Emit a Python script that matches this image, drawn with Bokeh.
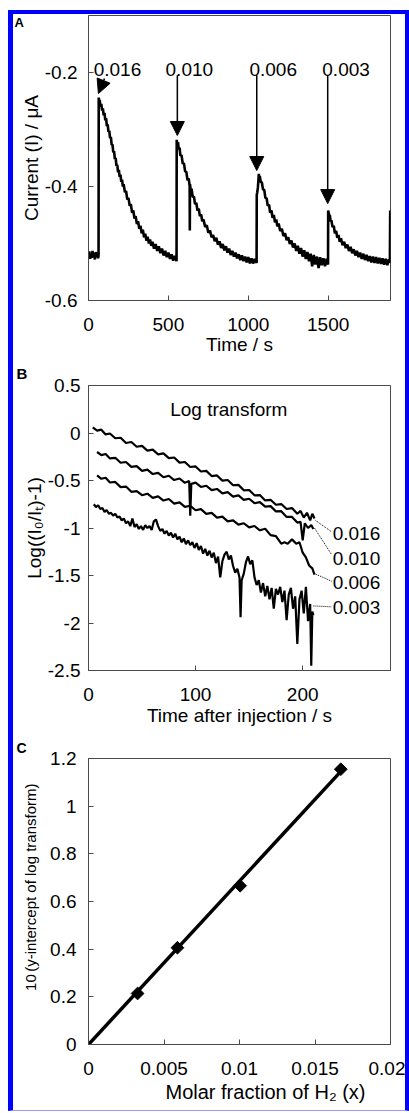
from math import pi
from bokeh.plotting import figure
from bokeh.layouts import column
from bokeh.models import Arrow, NormalHead, FixedTicker, Range1d, LinearAxis, Title
from bokeh.core.properties import value
from bokeh.embed import file_html
from bokeh.resources import INLINE

FONT = "Liberation Sans"

# ---------------- Panel A data: current transient ----------------
time_A = [0, 5, 10, 15, 20, 25, 30, 35, 40, 45, 50, 55, 60, 63,
          64, 67, 70, 75, 80, 85, 90, 95, 100, 105, 110, 115, 120, 125, 130, 135, 140, 145, 150, 155,
          160, 165, 170, 175, 180, 185, 190, 195, 200, 205, 210, 215, 220, 228, 235, 243, 250, 258,
          265, 273, 280, 288, 295, 303, 310, 318, 325, 333, 340, 348, 355, 363, 370, 378, 385, 393,
          400, 410, 420, 430, 440, 450, 460, 470, 480, 490, 500, 510, 520, 530, 540, 551,
          552, 555, 560, 565, 570, 575, 582, 590, 597, 605, 612, 620, 627, 633, 634, 635, 640, 645,
          652, 660, 667, 675, 682, 690, 697, 705, 712, 720, 730, 740, 750, 760, 770, 780, 790, 800,
          810, 820, 830, 840, 850, 860, 870, 880, 890, 900, 910, 920, 930, 940, 950, 960, 970, 980,
          990, 1000, 1010, 1020, 1030, 1040, 1052,
          1053, 1056, 1060, 1063, 1066, 1069, 1072, 1078, 1085, 1092, 1100, 1107, 1115, 1122, 1130,
          1137, 1145, 1152, 1160, 1167, 1175, 1182, 1190, 1200, 1210, 1220, 1230, 1240, 1250, 1260,
          1270, 1280, 1290, 1300, 1310, 1320, 1330, 1340, 1350, 1360, 1370, 1380, 1390, 1400, 1410,
          1420, 1430, 1440, 1450, 1460, 1470, 1480, 1490, 1499,
          1500, 1503, 1507, 1510, 1515, 1520, 1527, 1535, 1542, 1550, 1557, 1565, 1572, 1580, 1590,
          1600, 1610, 1620, 1630, 1640, 1650, 1660, 1670, 1680, 1690, 1700, 1710, 1720, 1730, 1740,
          1750, 1760, 1770, 1780, 1790, 1800, 1810, 1820, 1830, 1840, 1850, 1860, 1870, 1880, 1886, 1888]
current_A = [-0.522, -0.514, -0.527, -0.519, -0.525, -0.513, -0.524, -0.518, -0.528, -0.515, -0.523, -0.516, -0.526, -0.521,
             -0.244, -0.253, -0.248, -0.260, -0.255, -0.267, -0.263, -0.275, -0.271, -0.284, -0.280, -0.294, -0.291, -0.304, -0.302, -0.315, -0.313, -0.327, -0.326, -0.340,
             -0.338, -0.352, -0.350, -0.364, -0.362, -0.375, -0.371, -0.383, -0.379, -0.392, -0.388, -0.400, -0.396, -0.410, -0.408, -0.423, -0.420, -0.434,
             -0.431, -0.446, -0.442, -0.456, -0.452, -0.466, -0.461, -0.474, -0.469, -0.482, -0.476, -0.489, -0.483, -0.495, -0.488, -0.500, -0.493, -0.504,
             -0.497, -0.509, -0.501, -0.513, -0.505, -0.517, -0.509, -0.521, -0.513, -0.524, -0.516, -0.527, -0.519, -0.530, -0.522, -0.531,
             -0.318, -0.327, -0.322, -0.335, -0.332, -0.346, -0.345, -0.360, -0.359, -0.374, -0.374, -0.389, -0.386, -0.399, -0.477, -0.396, -0.407, -0.404,
             -0.418, -0.418, -0.431, -0.429, -0.442, -0.439, -0.452, -0.449, -0.461, -0.458, -0.471, -0.468, -0.481, -0.477, -0.489, -0.485, -0.496, -0.490,
             -0.502, -0.496, -0.508, -0.501, -0.512, -0.505, -0.516, -0.509, -0.520, -0.513, -0.523, -0.516, -0.526, -0.519, -0.529, -0.521, -0.531, -0.523,
             -0.533, -0.524, -0.535, -0.526, -0.535, -0.527, -0.534,
             -0.415, -0.410, -0.402, -0.390, -0.378, -0.384, -0.382, -0.392, -0.393, -0.405, -0.406, -0.420, -0.421, -0.434, -0.432,
             -0.446, -0.442, -0.455, -0.450, -0.463, -0.458, -0.470, -0.465, -0.478, -0.474, -0.487, -0.482, -0.494, -0.489, -0.501,
             -0.495, -0.507, -0.500, -0.513, -0.504, -0.518, -0.508, -0.523, -0.512, -0.527, -0.515, -0.531, -0.518, -0.540, -0.520,
             -0.537, -0.523, -0.543, -0.524, -0.538, -0.526, -0.540, -0.527, -0.537,
             -0.442, -0.446, -0.452, -0.450, -0.461, -0.459, -0.471, -0.469, -0.482, -0.478, -0.490, -0.485, -0.497, -0.491, -0.503,
             -0.497, -0.508, -0.502, -0.513, -0.506, -0.517, -0.510, -0.521, -0.513, -0.524, -0.516, -0.527, -0.518, -0.529, -0.520,
             -0.531, -0.522, -0.533, -0.523, -0.534, -0.524, -0.535, -0.525, -0.536, -0.526, -0.537, -0.527, -0.538, -0.528, -0.534, -0.442]

inject_labels = ["0.016", "0.010", "0.006", "0.003"]
inject_time = [62, 556, 1053, 1497]          # arrow tips (injection times)
inject_tip = [-0.237, -0.3105, -0.372, -0.430]
inject_tail_x = [100, 556, 1053, 1497]
inject_tail_y = [-0.2105, -0.205, -0.205, -0.205]
inject_text_x = [181, 631, 1156, 1612]
inject_text_y = [-0.195, -0.195, -0.195, -0.195]

xticks_A = [0, 500, 1000, 1500]
xlabels_A = ["0", "500", "1000", "1500"]
yticks_A = [-0.6, -0.4, -0.2]
ylabels_A = ["-0.6", "-0.4", "-0.2"]

# ---------------- Panel B data: log transform ----------------
tB16 = [4, 8, 12, 16, 20, 25, 30, 35, 40, 45, 50, 55, 60, 65, 70, 75, 80, 85, 90, 95, 100, 105, 110, 115,
        120, 125, 130, 135, 140, 145, 150, 155, 160, 165, 170, 175, 180, 185, 190, 195, 198, 201, 204, 207, 209, 211]
yB16 = [0.06, 0.025, 0.035, -0.015, -0.005, -0.055, -0.05, -0.105, -0.095, -0.145, -0.135, -0.185, -0.175,
        -0.225, -0.215, -0.265, -0.258, -0.312, -0.305, -0.358, -0.352, -0.405, -0.399, -0.453, -0.447, -0.501,
        -0.495, -0.55, -0.546, -0.603, -0.60, -0.656, -0.653, -0.71, -0.703, -0.755, -0.748, -0.80, -0.79, -0.85,
        -0.82, -0.89, -0.84, -0.92, -0.85, -0.90]
tB10 = [8, 12, 16, 20, 25, 30, 35, 40, 45, 50, 55, 60, 65, 70, 75, 80, 85, 90, 94, 95, 96, 100, 105, 110, 115,
        120, 125, 130, 135, 140, 145, 150, 155, 160, 165, 170, 175, 180, 185, 190, 195, 198, 200, 202, 205, 208, 210]
yB10 = [-0.20, -0.233, -0.221, -0.268, -0.261, -0.313, -0.305, -0.357, -0.348, -0.398, -0.385, -0.432, -0.419,
        -0.466, -0.45, -0.495, -0.479, -0.524, -0.506, -0.87, -0.535, -0.523, -0.568, -0.555, -0.602, -0.589,
        -0.636, -0.623, -0.67, -0.657, -0.704, -0.692, -0.739, -0.727, -0.775, -0.77, -0.825, -0.823, -0.883,
        -0.883, -0.943, -0.935, -1.13, -0.95, -1.0, -0.97, -1.01]
tB06 = [8, 12, 16, 20, 25, 30, 35, 40, 45, 50, 55, 60, 65, 70, 75, 80, 85, 90, 95, 100, 105, 110, 115, 120,
        125, 130, 135, 140, 145, 150, 155, 160, 165, 170, 175, 180, 183, 186, 190, 194, 197, 200, 203, 206, 209, 211]
yB06 = [-0.447, -0.482, -0.471, -0.521, -0.515, -0.57, -0.564, -0.619, -0.611, -0.655, -0.639, -0.683, -0.667,
        -0.711, -0.695, -0.743, -0.73, -0.778, -0.766, -0.813, -0.801, -0.851, -0.841, -0.891, -0.88, -0.93,
        -0.92, -0.965, -0.95, -0.994, -0.979, -1.024, -1.008, -1.075, -1.085, -1.165, -1.15, -1.165, -1.12,
        -1.165, -1.15, -1.26, -1.31, -1.395, -1.425, -1.49]
tB03 = [5, 7, 9, 11, 13, 15, 17, 19, 21, 23, 25, 27, 29, 31, 33, 35, 37, 39, 41, 43, 45, 47, 49, 51, 53, 55,
        57, 59, 61, 63, 65, 67, 69, 71, 73, 75, 77, 79, 81, 83, 85, 87, 89, 91, 93, 95, 97, 99, 101, 103, 105,
        107, 109, 111, 113, 115, 117, 119, 121, 123, 125, 127, 129, 131, 133, 135, 137, 139, 141, 142, 143, 145,
        147, 149, 151, 153, 155, 157, 159, 161, 163, 165, 167, 169, 171, 173, 175, 177, 179, 181, 183, 185, 187,
        189, 191, 193, 195, 197, 199, 201, 203, 205, 207, 208, 209, 210]
yB03 = [-0.75, -0.78, -0.76, -0.80, -0.79, -0.83, -0.81, -0.85, -0.84, -0.87, -0.85, -0.89, -0.88, -0.92,
        -0.90, -0.95, -0.93, -0.98, -0.90, -0.99, -0.96, -1.01, -0.98, -1.02, -0.97, -1.00, -0.98, -1.02, -0.93,
        -0.91, -0.98, -1.03, -1.01, -1.06, -1.03, -1.08, -1.05, -1.10, -1.06, -1.12, -1.09, -1.15, -1.11, -1.17,
        -1.13, -1.18, -1.15, -1.21, -1.16, -1.23, -1.19, -1.27, -1.22, -1.29, -1.24, -1.31, -1.26, -1.37, -1.30,
        -1.52, -1.35, -1.28, -1.25, -1.33, -1.29, -1.40, -1.47, -1.43, -1.52, -1.94, -1.55, -1.48, -1.36, -1.30,
        -1.38, -1.34, -1.52, -1.60, -1.55, -1.68, -1.58, -1.72, -1.61, -1.75, -1.63, -1.85, -1.64, -1.70, -1.62,
        -1.78, -1.66, -1.97, -1.70, -1.63, -1.85, -1.72, -2.22, -1.75, -1.66, -1.90, -1.62, -1.98, -1.80, -2.45,
        -1.88, -1.92]

series_B = [(tB16, yB16), (tB10, yB10), (tB06, yB06), (tB03, yB03)]
labels_B = ["0.016", "0.010", "0.006", "0.003"]
leader_x0 = [212, 211, 211, 210]
leader_y0 = [-0.92, -1.00, -1.48, -1.82]
leader_x1 = [227, 227, 227, 227]
leader_y1 = [-1.04, -1.28, -1.56, -1.83]
label_x_B = [228, 228, 228, 228]
label_y_B = [-1.061, -1.325, -1.577, -1.833]

xticks_B = [0, 100, 200]
xlabels_B = ["0", "100", "200"]
yticks_B = [-2.5, -2, -1.5, -1, -0.5, 0, 0.5]
ylabels_B = ["-2.5", "-2", "-1.5", "-1", "-0.5", "0", "0.5"]

# ---------------- Panel C data: calibration ----------------
molar_fraction = [0.00325, 0.00589, 0.01004, 0.01671]
intercept_pow = [0.214, 0.406, 0.666, 1.155]
fit_x = [0.0, 0.0167]
fit_y = [0.0, 1.145]

xticks_C = [0, 0.005, 0.01, 0.015, 0.02]
xlabels_C = ["0", "0.005", "0.01", "0.015", "0.02"]
yticks_C = [0, 0.2, 0.4, 0.6, 0.8, 1.0, 1.2]
ylabels_C = ["0", "0.2", "0.4", "0.6", "0.8", "1", "1.2"]
ylabel_C_ticks = [0.26, 0.70]
ylabel_C_parts = ["10", "(y-intercept of log transform)"]

AXIS_COLOR = "#4a4a4a"


def make_fig(w, h, xr, yr, left, right, top, bottom):
    p = figure(width=w, height=h, x_range=Range1d(*xr), y_range=Range1d(*yr),
               output_backend="svg", toolbar_location=None, title=None,
               min_border_left=left, min_border_right=right,
               min_border_top=top, min_border_bottom=bottom)
    p.background_fill_color = "white"
    p.border_fill_color = "white"
    p.outline_line_color = AXIS_COLOR
    p.outline_line_width = 1
    p.xgrid.visible = False
    p.ygrid.visible = False
    for ax in (p.xaxis, p.yaxis):
        ax.axis_line_color = AXIS_COLOR
        ax.major_tick_line_color = AXIS_COLOR
        ax.major_tick_in = 5
        ax.major_tick_out = 0
        ax.minor_tick_line_color = None
        ax.major_label_text_font = FONT
        ax.major_label_text_font_size = "19px"
        ax.major_label_text_color = "black"
        ax.axis_label_text_font = FONT
        ax.axis_label_text_font_size = "19px"
        ax.axis_label_text_font_style = "normal"
        ax.axis_label_text_color = "black"
    p.xaxis.major_label_standoff = 17
    p.yaxis.major_label_standoff = 14
    return p


def set_ticks(p, xt, xl, yt, yl):
    p.xaxis.ticker = FixedTicker(ticks=xt)
    p.xaxis.major_label_overrides = dict(zip(xt, xl))
    p.yaxis.ticker = FixedTicker(ticks=yt)
    p.yaxis.major_label_overrides = dict(zip(yt, yl))


def make_title(text, align, offset, valign, standoff, size, bold):
    kw = dict(text=text, align=align, offset=offset, vertical_align=valign,
              text_font=FONT, text_font_size=size, text_color="black",
              text_font_style="bold" if bold else "normal")
    try:
        t = Title(standoff=standoff, **kw)
    except Exception:
        t = Title(standoff=0, **kw)
    return t


# ---------------- Panel A ----------------
pA = make_fig(392, 349, (0, 1890), (-0.6, -0.1), 75, 15, 1, 63)
set_ticks(pA, xticks_A, xlabels_A, yticks_A, ylabels_A)
pA.line(time_A, current_A, line_color="black", line_width=2.6)
for tx, ty, hx, hy in zip(inject_tail_x, inject_tail_y, inject_time, inject_tip):
    pA.add_layout(Arrow(end=NormalHead(size=14, fill_color="black", line_color="black"),
                        x_start=tx, y_start=ty, x_end=hx, y_end=hy,
                        line_color="black", line_width=1.5))
pA.text(x=inject_text_x, y=inject_text_y, text=inject_labels, text_font=value(FONT),
        text_font_size="19px", text_align="center", text_baseline="alphabetic", text_color="black")
pA.yaxis.major_label_standoff = 11
pA.yaxis.axis_label = "Current (I) / μA"
pA.yaxis.axis_label_standoff = 0
pA.xaxis.axis_label = "Time / s"
pA.xaxis.axis_label_standoff = 0
pA.add_layout(make_title("A", "left", -74, "bottom", -28, "13px", True), "above")

# ---------------- Panel B ----------------
pB = make_fig(392, 375, (0, 282), (-2.5, 0.5), 72, 12, 22, 68)
set_ticks(pB, xticks_B, xlabels_B, yticks_B, ylabels_B)
for xs, ys in series_B:
    pB.line(xs, ys, line_color="black", line_width=2.2)
pB.segment(x0=leader_x0, y0=leader_y0, x1=leader_x1, y1=leader_y1,
           line_color="black", line_width=1, line_dash="1 1")
pB.text(x=label_x_B, y=label_y_B, text=labels_B, text_font=value(FONT), text_font_size="19px",
        text_align="left", text_baseline="middle", text_color="black")
pB.text(x=[131], y=[0.25], text=["Log transform"], text_font=value(FONT), text_font_size="19px",
        text_align="center", text_baseline="middle", text_color="black")
pB.yaxis.major_label_standoff = 8
pB.yaxis.axis_label = "Log((I₀/Iₜ)-1)"
pB.yaxis.axis_label_standoff = 0
pB.xaxis.axis_label = "Time after injection / s"
pB.xaxis.axis_label_standoff = 1
pB.add_layout(make_title("B", "left", -72, "top", 3, "15px", True), "above")

# ---------------- Panel C ----------------
pC = make_fig(392, 372, (0, 0.02), (0, 1.2), 73, 11, 20, 66)
set_ticks(pC, xticks_C, xlabels_C, yticks_C, ylabels_C)
pC.yaxis.major_label_standoff = 12
pC.line(fit_x, fit_y, line_color="black", line_width=3.5)
pC.scatter(molar_fraction, intercept_pow, marker="square", angle=pi / 4, size=9,
           fill_color="black", line_color="black")
# y-axis title "10^(y-intercept of log transform)" carried by a second, line-less left axis
ylab_axis = LinearAxis(ticker=FixedTicker(ticks=ylabel_C_ticks),
                       major_label_overrides=dict(zip(ylabel_C_ticks, ylabel_C_parts)),
                       axis_line_color=None, major_tick_line_color=None, minor_tick_line_color=None,
                       major_tick_in=0, major_tick_out=0, major_label_standoff=8,
                       major_label_orientation="vertical",
                       major_label_text_font=FONT, major_label_text_font_size="15px",
                       major_label_text_color="black")
pC.add_layout(ylab_axis, "left")
pC.add_layout(make_title("Molar fraction of H₂ (x)", "left", 77, "bottom", 3, "20px", False), "below")
pC.add_layout(make_title("C", "left", -72, "top", 2, "14px", True), "above")

layout = column(pA, pB, pC, margin=(10, 0, 0, 8),
                styles={"border-left": "5px solid #0000ff", "border-top": "4px solid #0000ff",
                        "border-right": "4px solid #0000ff", "border-bottom": "1px solid #9a9aff"})

with open("out.html", "w") as f:
    f.write(file_html(layout, INLINE))
